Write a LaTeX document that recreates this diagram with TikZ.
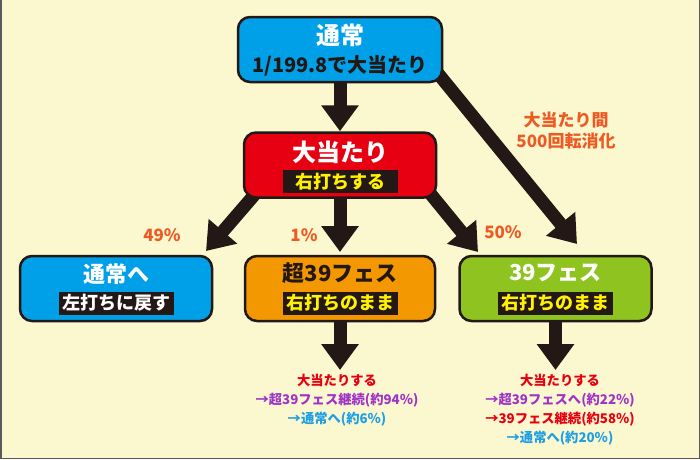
\documentclass[tikz,border=0pt]{standalone}
\usepackage{fontspec}
\setmainfont{Noto Sans CJK JP}
\usetikzlibrary{arrows.meta,backgrounds}

\definecolor{ink}{HTML}{231815}
\definecolor{cream}{HTML}{FBF7CE}
\definecolor{framegray}{HTML}{5A5A5A}
\definecolor{boxblue}{HTML}{00A0E9}
\definecolor{hitred}{HTML}{E60012}
\definecolor{superorange}{HTML}{F39800}
\definecolor{fesgreen}{HTML}{8FC31F}
\definecolor{tagyellow}{HTML}{FFF100}
\definecolor{rateorange}{HTML}{EE5A24}
\definecolor{resultpurple}{HTML}{9F35C8}
\definecolor{resultblue}{HTML}{1E9FE6}

\begin{document}
\begin{tikzpicture}[
    x=1pt, y=-1pt,
    every node/.style={font=\bfseries},
    panel/.style={rectangle, draw=ink, line width=2.5pt, rounded corners=12pt, minimum width=192pt, minimum height=65pt, inner sep=0pt},
    head/.style={font=\fontsize{22}{26}\selectfont\bfseries, text=white, inner sep=0pt},
    bighead/.style={head, font=\fontsize{24}{28}\selectfont\bfseries},
    tag/.style={fill=ink, text=tagyellow, minimum width=115pt, minimum height=23pt, inner sep=0pt, font=\fontsize{18}{22}\selectfont\bfseries},
    bigarrow/.style={draw=ink, line width=13pt, -{Triangle[width=36pt, length=26pt]}},
    rate/.style={text=rateorange, font=\fontsize{17}{21}\selectfont\bfseries, align=center, inner sep=0pt},
    result/.style={font=\fontsize{13.3}{19}\selectfont\bfseries, align=center, inner sep=0pt}
]
\useasboundingbox (0,0) rectangle (700,459);

% -------------------------
% Boxes
% -------------------------
    \node[panel, fill=boxblue, minimum width=204pt] (top) at (340,49.5) {};
    \node[bighead] (toptitle) at (340,35) {通常};
    \node[inner sep=0pt, text=ink, font=\fontsize{20}{23}\selectfont\bfseries] (topodds) at (340,65.5) {1/199.8で大当たり};

    \node[panel, fill=hitred] (hit) at (340,165) {};
    \node[bighead] (hittitle) at (340,152.5) {大当たり};
    \node[tag] (hittag) at (340,181.5) {右打ちする};

    \node[panel, fill=boxblue] (back) at (116,288.5) {};
    \node[head] (backtitle) at (116,274) {通常へ};
    \node[tag, text=white] (backtag) at (116,303) {左打ちに戻す};

    \node[panel, fill=superorange, minimum width=190pt] (super) at (340,288.5) {};
    \node[head, text=ink] (supertitle) at (340,273) {超39フェス};
    \node[tag] (supertag) at (340,303) {右打ちのまま};

    \node[panel, fill=fesgreen] (fes) at (555.5,288.5) {};
    \node[head] (festitle) at (555.5,273) {39フェス};
    \node[tag] (festag) at (555.5,303) {右打ちのまま};

% -------------------------
% Rates and notes
% -------------------------
    \node[rate] (rateback) at (162,235) {49\%};
    \node[rate] (ratesuper) at (304,235) {1\%};
    \node[rate] (ratefes) at (503,232) {50\%};
    \node[rate] (limit) at (566,130.5) {大当たり間\\500回転消化};

    \node[result, anchor=north] (superres) at (337,374) {\textcolor{hitred}{大当たりする}\\\textcolor{resultpurple}{→超39フェス継続(約94％)}\\\textcolor{resultblue}{→通常へ(約6％)}};
    \node[result, anchor=north] (fesres) at (560,374) {\textcolor{hitred}{大当たりする}\\\textcolor{resultpurple}{→超39フェスへ(約22％)}\\\textcolor{hitred}{→39フェス継続(約58％)}\\\textcolor{resultblue}{→通常へ(約20％)}};

% -------------------------
% Arrows (under the boxes)
% -------------------------
    \coordinate (topdiag) at (427,60);
    \coordinate (fesin) at (577,244);
    \coordinate (hitleft) at (262,186);
    \coordinate (backin) at (206,251);
    \coordinate (hitright) at (420,181);
    \coordinate (fesleft) at (478,252);
    \coordinate (superin) at (340,252);
    \coordinate (superout) at (340,370);
    \coordinate (fesout) at (555.5,370);

\begin{scope}[on background layer]
    \fill[cream] (0,0) rectangle (700,459);
    \draw[framegray, line width=1.5pt] (0.75,0) -- (0.75,458.25) -- (699.25,458.25) -- (699.25,0);

    \draw[bigarrow] (top.south) -- (hit.north);
    \draw[bigarrow] (topdiag) -- (fesin);
    \draw[bigarrow] (hitleft) -- (backin);
    \draw[bigarrow] (hit.south) -- (superin);
    \draw[bigarrow] (hitright) -- (fesleft);
    \draw[bigarrow] (super.south) -- (superout);
    \draw[bigarrow] (fes.south) -- (fesout);
\end{scope}
\end{tikzpicture}
\end{document}
